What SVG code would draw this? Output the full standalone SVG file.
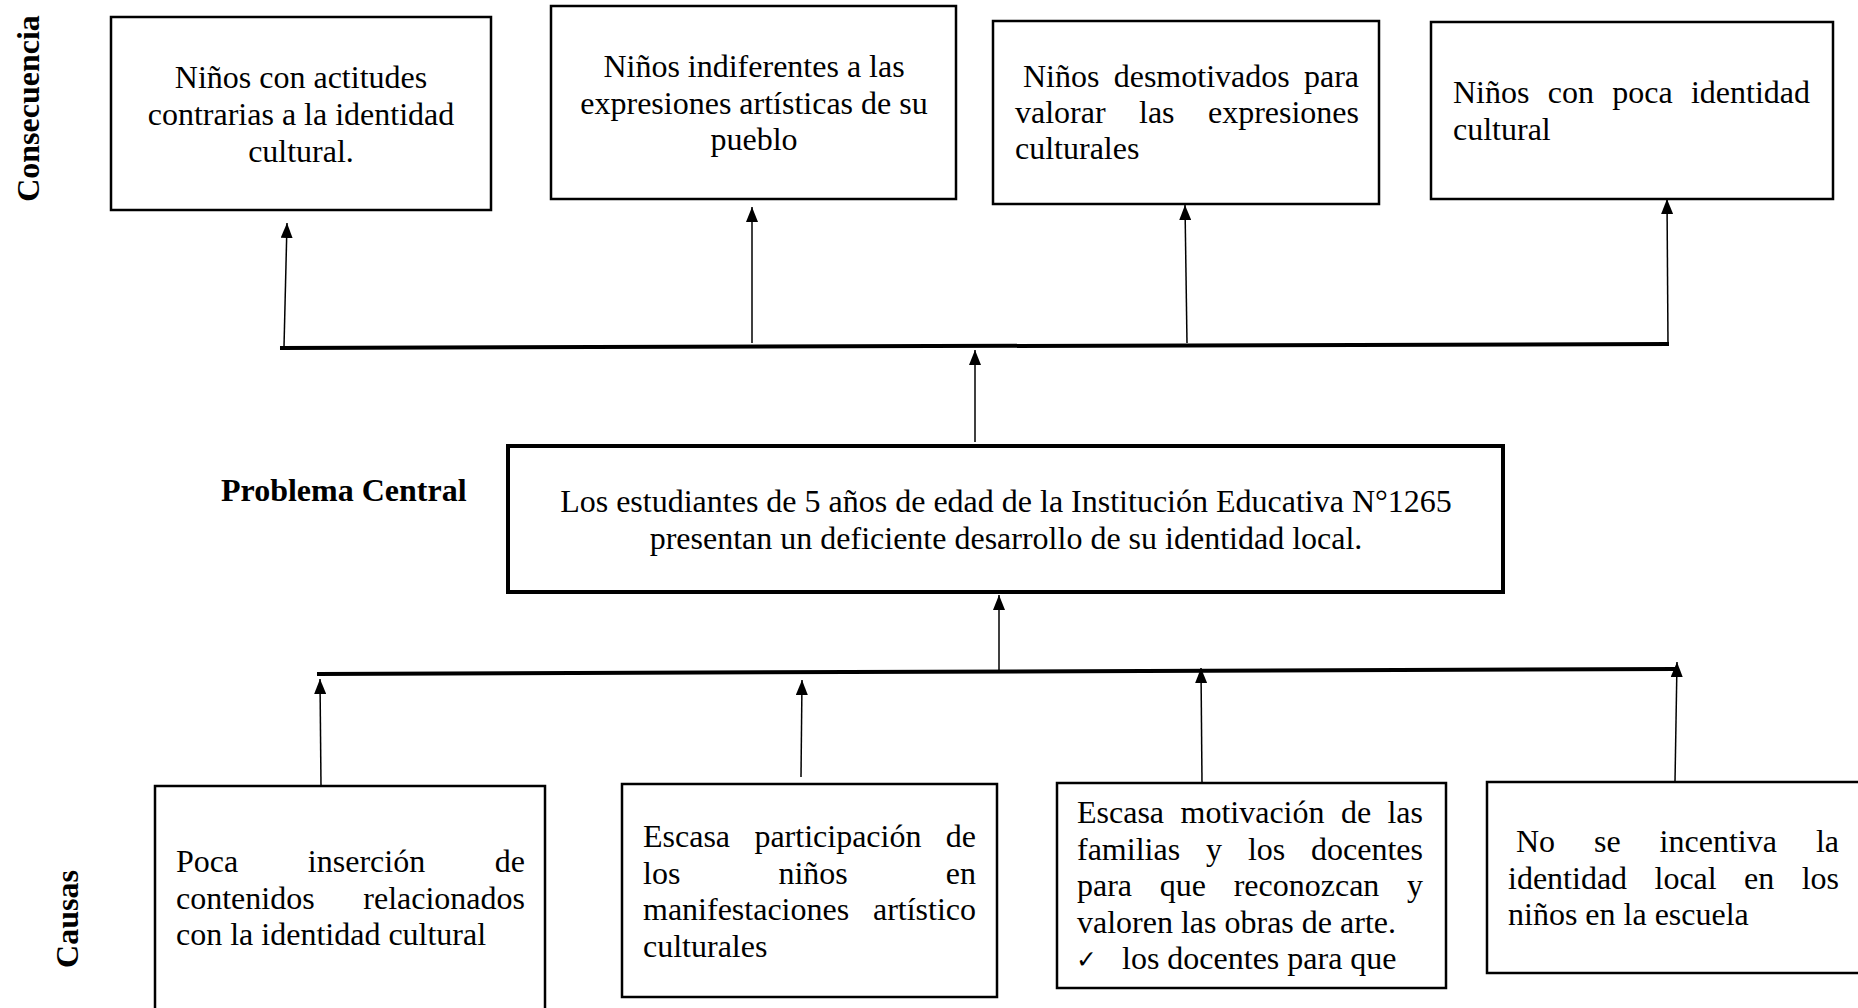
<svg xmlns="http://www.w3.org/2000/svg" width="1858" height="1008" viewBox="0 0 1858 1008">
<style>
.t{font-family:"Liberation Serif","Times New Roman",serif;font-size:32px;fill:#000}
.b{font-weight:bold}
.m{text-anchor:middle}
.e{text-anchor:end}
.box{fill:#fff;stroke:#000;stroke-width:2.5}
.cbox{fill:#fff;stroke:#000;stroke-width:4}
.ln{stroke:#000;stroke-width:1.5;fill:none;marker-end:url(#ah)}
.bar{stroke:#000;stroke-width:4;fill:none}
.ck{font-family:"DejaVu Sans",sans-serif;font-size:25px;fill:#000}
</style>
<defs>
<marker id="ah" viewBox="0 0 15 12" refX="15" refY="6" markerWidth="15" markerHeight="12" markerUnits="userSpaceOnUse" orient="auto">
<path d="M0,0 L15,6 L0,12 z" fill="#000"/>
</marker>
</defs>
<rect width="1858" height="1008" fill="#fff"/>

<g id="labels">
<text class="t b m" transform="translate(39,108.5) rotate(-90)">Consecuencia</text>
<text class="t b" x="221" y="501">Problema Central</text>
<text class="t b m" transform="translate(78,919) rotate(-90)">Causas</text>
</g>

<g id="connectors">
<polyline class="bar" points="280,348 1669,344"/>
<line class="ln" x1="284" y1="347" x2="287" y2="223"/>
<line class="ln" x1="752" y1="343" x2="752" y2="207"/>
<line class="ln" x1="1187" y1="343" x2="1185" y2="205"/>
<line class="ln" x1="1668" y1="343" x2="1667" y2="199"/>
<line class="ln" x1="975" y1="442" x2="975" y2="350"/>
<polyline class="bar" points="317,674 1676,669"/>
<line class="ln" x1="999" y1="671" x2="999" y2="595"/>
<line class="ln" x1="321" y1="786" x2="320" y2="679"/>
<line class="ln" x1="801" y1="777" x2="802" y2="680"/>
<line class="ln" x1="1202" y1="783" x2="1201" y2="668"/>
<line class="ln" x1="1675" y1="782" x2="1677" y2="662"/>
</g>

<g id="cons1">
<rect class="box" x="111" y="17" width="380" height="193"/>
<text class="t m" x="301" y="88">Niños con actitudes</text>
<text class="t m" x="301" y="125">contrarias a la identidad</text>
<text class="t m" x="301" y="162">cultural.</text>
</g>

<g id="cons2">
<rect class="box" x="551" y="6" width="405" height="193"/>
<text class="t m" x="754" y="77">Niños indiferentes a las</text>
<text class="t m" x="754" y="113.5">expresiones artísticas de su</text>
<text class="t m" x="754" y="150">pueblo</text>
</g>

<g id="cons3">
<rect class="box" x="993" y="21" width="386" height="183"/>
<text class="t" x="1023" y="86.5">Niños</text>
<text class="t" x="1113.7" y="86.5">desmotivados</text>
<text class="t e" x="1359" y="86.5">para</text>
<text class="t" x="1015" y="123">valorar</text>
<text class="t" x="1139" y="123">las</text>
<text class="t e" x="1359" y="123">expresiones</text>
<text class="t" x="1015" y="159">culturales</text>
</g>

<g id="cons4">
<rect class="box" x="1431" y="22" width="402" height="177"/>
<text class="t" x="1453" y="103">Niños</text>
<text class="t" x="1547.7" y="103">con</text>
<text class="t" x="1612.2" y="103">poca</text>
<text class="t e" x="1810" y="103">identidad</text>
<text class="t" x="1453" y="140">cultural</text>
</g>

<g id="problema">
<rect class="cbox" x="508" y="446" width="995" height="146"/>
<text class="t m" x="1006" y="512">Los estudiantes de 5 años de edad de la Institución Educativa N°1265</text>
<text class="t m" x="1006" y="549">presentan un deficiente desarrollo de su identidad local.</text>
</g>

<g id="causa1">
<rect class="box" x="155" y="786" width="390" height="240"/>
<text class="t" x="176" y="872">Poca</text>
<text class="t m" x="366.5" y="872">inserción</text>
<text class="t e" x="525" y="872">de</text>
<text class="t" x="176" y="908.5">contenidos</text>
<text class="t e" x="525" y="908.5">relacionados</text>
<text class="t" x="176" y="945">con la identidad cultural</text>
</g>

<g id="causa2">
<rect class="box" x="622" y="784" width="375" height="213"/>
<text class="t" x="643" y="847">Escasa</text>
<text class="t" x="754.4" y="847">participación</text>
<text class="t e" x="976" y="847">de</text>
<text class="t" x="643" y="883.5">los</text>
<text class="t" x="778.4" y="883.5">niños</text>
<text class="t e" x="976" y="883.5">en</text>
<text class="t" x="643" y="920">manifestaciones</text>
<text class="t e" x="976" y="920">artístico</text>
<text class="t" x="643" y="956.5">culturales</text>
</g>

<g id="causa3">
<rect class="box" x="1057" y="783" width="389" height="205"/>
<text class="t" x="1077" y="823">Escasa</text>
<text class="t" x="1180.5" y="823">motivación</text>
<text class="t" x="1340.9" y="823">de</text>
<text class="t e" x="1423" y="823">las</text>
<text class="t" x="1077" y="859.5">familias</text>
<text class="t" x="1206" y="859.5">y</text>
<text class="t" x="1247.9" y="859.5">los</text>
<text class="t e" x="1423" y="859.5">docentes</text>
<text class="t" x="1077" y="896">para</text>
<text class="t" x="1159.8" y="896">que</text>
<text class="t" x="1233.7" y="896">reconozcan</text>
<text class="t e" x="1423" y="896">y</text>
<text class="t" x="1077" y="932.5">valoren las obras de arte.</text>
<text class="ck" x="1076" y="968">✓</text>
<text class="t" x="1122" y="969">los docentes para que</text>
</g>

<g id="causa4">
<rect class="box" x="1487" y="782" width="385" height="191"/>
<text class="t" x="1516" y="852">No</text>
<text class="t" x="1594" y="852">se</text>
<text class="t" x="1659.6" y="852">incentiva</text>
<text class="t e" x="1839" y="852">la</text>
<text class="t" x="1508" y="888.5">identidad</text>
<text class="t" x="1654.5" y="888.5">local</text>
<text class="t" x="1744.1" y="888.5">en</text>
<text class="t e" x="1839" y="888.5">los</text>
<text class="t" x="1508" y="925">niños en la escuela</text>
</g>
</svg>
